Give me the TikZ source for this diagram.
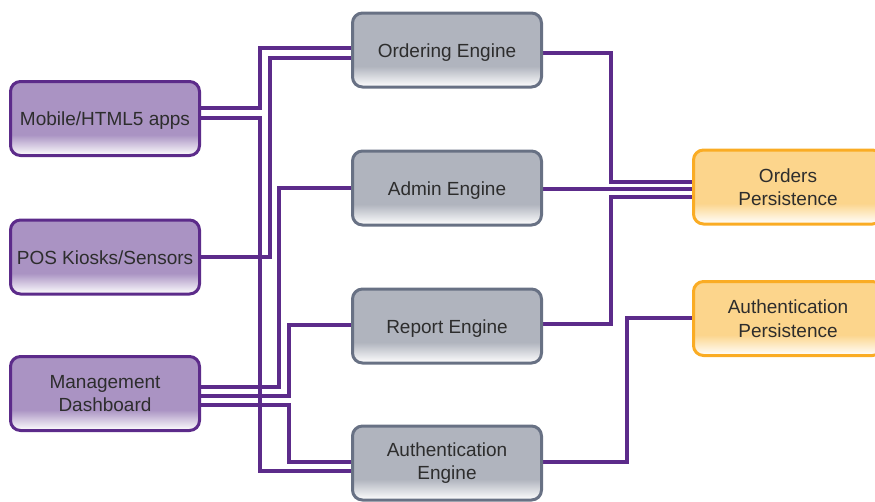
\documentclass[tikz,border=0pt]{standalone}
\usepackage{fontspec}
\setmainfont{Liberation Sans}
\usetikzlibrary{backgrounds}
\definecolor{pline}{RGB}{92,43,138}
\definecolor{pfill}{RGB}{170,147,195}
\definecolor{gline}{RGB}{104,113,132}
\definecolor{gfill}{RGB}{176,180,190}
\definecolor{oline}{RGB}{250,172,36}
\definecolor{ofill}{RGB}{252,213,140}
\definecolor{txt}{RGB}{45,45,45}
\pgfdeclareverticalshading{pshade}{100bp}{color(0bp)=(white); color(25bp)=(white); color(39bp)=(pfill); color(100bp)=(pfill)}
\pgfdeclareverticalshading{gshade}{100bp}{color(0bp)=(white); color(25bp)=(white); color(39bp)=(gfill); color(100bp)=(gfill)}
\pgfdeclareverticalshading{oshade}{100bp}{color(0bp)=(white); color(25bp)=(white); color(39bp)=(ofill); color(100bp)=(ofill)}
\begin{document}
\begin{tikzpicture}[x=1pt,y=-1pt,
  box/.style={rounded corners=10pt, line width=3pt, minimum width=189pt, minimum height=74pt,
    inner sep=0pt, align=center, font=\fontsize{19}{23.5}\selectfont, text=txt},
  one/.style={text height=16pt, text depth=2pt},
  lbox/.style={box, draw=pline, shading=pshade},
  mbox/.style={box, draw=gline, shading=gshade},
  rbox/.style={box, draw=oline, shading=oshade},
  conn/.style={draw=pline, line width=3.2pt}]
\useasboundingbox (0,0) rectangle (875,501);
\node[lbox,one] (mob) at (105,118.5) {Mobile/HTML5 apps};
\node[lbox,one] (pos) at (105,257) {POS Kiosks/Sensors};
\node[lbox] (mgm) at (105,393.5) {Management\\Dashboard};
\node[mbox,one] (ord) at (447,50) {Ordering Engine};
\node[mbox,one] (adm) at (447,188) {Admin Engine};
\node[mbox,one] (rep) at (447,326) {Report Engine};
\node[mbox] (aen) at (447,463) {Authentication\\Engine};
\node[rbox] (orp) at (788,187) {Orders\\Persistence};
\node[rbox] (aup) at (788,318.5) {Authentication\\Persistence};
\begin{scope}[on background layer]
\draw[conn] (mob.east |- 0,108) -| (260,48) -- (ord.west |- 0,48);
\draw[conn] (mob.east |- 0,118) -| (260,471) -- (aen.west |- 0,471);
\draw[conn] (pos.east |- 0,257) -| (270,58) -- (ord.west |- 0,58);
\draw[conn] (mgm.east |- 0,387) -| (279,188) -- (adm.west |- 0,188);
\draw[conn] (mgm.east |- 0,396) -| (289,325) -- (rep.west |- 0,325);
\draw[conn] (mgm.east |- 0,405) -| (289,462) -- (aen.west |- 0,462);
\draw[conn] (ord.east |- 0,53) -| (611,182) -- (orp.west |- 0,182);
\draw[conn] (adm.east |- 0,189) -- (orp.west |- 0,189);
\draw[conn] (rep.east |- 0,324) -| (611,197) -- (orp.west |- 0,197);
\draw[conn] (aen.east |- 0,462) -| (627,318) -- (aup.west |- 0,318);
\end{scope}
\end{tikzpicture}
\end{document}
